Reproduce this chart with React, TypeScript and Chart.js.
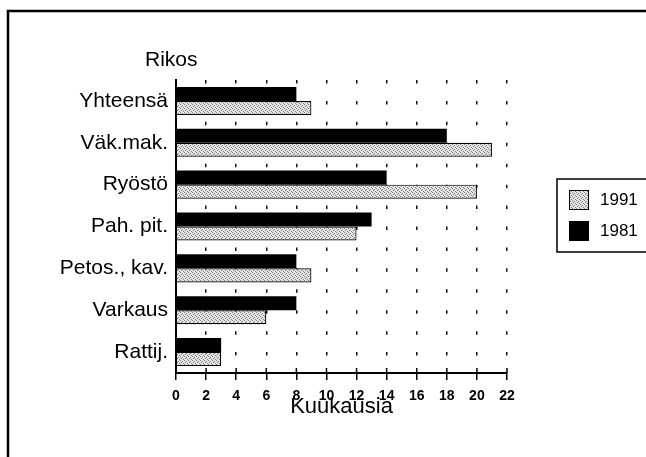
import React, { useEffect, useRef } from 'react';
import { Chart, registerables } from 'chart.js';

Chart.register(...registerables);

const categories = ['Yhteensä', 'Väk.mak.', 'Ryöstö', 'Pah. pit.', 'Petos., kav.', 'Varkaus', 'Rattij.'];
const values1981 = [8, 18, 14, 13, 8, 8, 3];
const values1991 = [9, 21, 20, 12, 9, 6, 3];
const seriesLabels = ['1981', '1991'];
const xMin = 0;
const xMax = 22;
const xStep = 2;
const xTitle = 'Kuukausia';
const yTitle = 'Rikos';

const FONT = '"Liberation Sans", Arial, Helvetica, sans-serif';

function makePattern(): CanvasPattern | string {
  const c = document.createElement('canvas');
  c.width = 4;
  c.height = 4;
  const g = c.getContext('2d');
  if (!g) return '#c8c8c8';
  g.fillStyle = '#e4e4e4';
  g.fillRect(0, 0, 4, 4);
  g.fillStyle = '#808080';
  g.fillRect(0, 0, 1, 1);
  g.fillRect(2, 1, 1, 1);
  g.fillRect(1, 2, 1, 1);
  g.fillRect(3, 3, 1, 1);
  const p = g.createPattern(c, 'repeat');
  return p || '#c8c8c8';
}

export default function App() {
  const ref = useRef<HTMLCanvasElement | null>(null);

  useEffect(() => {
    const canvas = ref.current;
    if (!canvas) return;
    const pattern = makePattern();

    const decor = {
      id: 'decor',
      afterDraw(chart: any) {
        const ctx = chart.ctx;
        const area = chart.chartArea;
        const xs = chart.scales.x;
        ctx.save();
        // outer frame
        ctx.strokeStyle = '#000';
        ctx.lineWidth = 2.5;
        ctx.beginPath();
        ctx.moveTo(8, 460);
        ctx.lineTo(8, 11);
        ctx.lineTo(650, 11);
        ctx.stroke();

        // axes lines (solid)
        ctx.lineWidth = 2;
        ctx.beginPath();
        ctx.moveTo(area.left, area.top);
        ctx.lineTo(area.left, area.bottom);
        ctx.lineTo(area.right, area.bottom);
        ctx.stroke();

        // tick marks above axis
        ctx.lineWidth = 1.5;
        xs.ticks.forEach((t: any) => {
          const px = xs.getPixelForValue(t.value);
          ctx.beginPath();
          ctx.moveTo(px, area.bottom - 5);
          ctx.lineTo(px, area.bottom);
          ctx.stroke();
        });

        // y title
        ctx.fillStyle = '#000';
        ctx.font = `21px ${FONT}`;
        ctx.textAlign = 'left';
        ctx.textBaseline = 'alphabetic';
        ctx.fillText(yTitle, 145, 66);

        // legend
        ctx.lineWidth = 1.5;
        ctx.strokeStyle = '#000';
        ctx.strokeRect(557, 179, 100, 73);
        const ds = chart.data.datasets.slice().reverse();
        ds.forEach((d: any, i: number) => {
          const y = 190 + i * 31;
          ctx.fillStyle = d.backgroundColor;
          ctx.fillRect(569, y, 20, 20);
          ctx.lineWidth = 1;
          ctx.strokeStyle = '#000';
          ctx.strokeRect(569.5, y + 0.5, 19, 19);
          ctx.fillStyle = '#000';
          ctx.font = `17px ${FONT}`;
          ctx.textAlign = 'left';
          ctx.textBaseline = 'alphabetic';
          ctx.fillText(d.label, 600, y + 15);
        });
        ctx.restore();
      },
    };

    const chart = new Chart(canvas, {
      type: 'bar',
      data: {
        labels: categories,
        datasets: [
          {
            label: seriesLabels[0],
            data: values1981,
            backgroundColor: '#000',
            borderColor: '#000',
            borderWidth: 0,
            categoryPercentage: 0.67,
            barPercentage: 1.0,
          },
          {
            label: seriesLabels[1],
            data: values1991,
            backgroundColor: pattern as any,
            borderColor: '#000',
            borderWidth: 1.2,
            borderSkipped: 'start',
            categoryPercentage: 0.67,
            barPercentage: 1.0,
          },
        ],
      },
      options: {
        indexAxis: 'y',
        responsive: false,
        animation: false,
        maintainAspectRatio: false,
        layout: { padding: { left: 0, top: 80, right: 139, bottom: 0 } },
        plugins: {
          legend: { display: false },
          tooltip: { enabled: false },
          title: { display: false },
        },
        scales: {
          x: {
            type: 'linear',
            position: 'bottom',
            min: xMin,
            max: xMax,
            ticks: {
              stepSize: xStep,
              color: '#000',
              padding: 8,
              font: { family: FONT, size: 14, weight: 'bold' },
            },
            grid: {
              color: '#111',
              lineWidth: 1.5,
              drawTicks: true,
              tickLength: 7,
              tickColor: '#000',
              tickWidth: 1.5,
            },
            border: { display: true, color: '#000', width: 2, dash: [3.5, 17.43] },
            title: {
              display: true,
              text: xTitle,
              color: '#000',
              font: { family: FONT, size: 22 },
              padding: { top: 0, bottom: 37 },
            },
            afterFit: (s: any) => {
              s.height = 84;
            },
          },
          y: {
            type: 'category',
            grid: { display: false, drawTicks: false },
            border: { display: true, color: '#000', width: 2 },
            ticks: {
              color: '#000',
              padding: 8,
              font: { family: FONT, size: 21 },
            },
            afterFit: (s: any) => {
              s.width = 176;
            },
          },
        },
      },
      plugins: [decor],
    } as any);

    return () => chart.destroy();
  }, []);

  return (
    <canvas
      ref={ref}
      width={646}
      height={457}
      style={{ position: 'fixed', left: 0, top: 0, width: 646, height: 457, display: 'block', background: '#fff' }}
    />
  );
}
